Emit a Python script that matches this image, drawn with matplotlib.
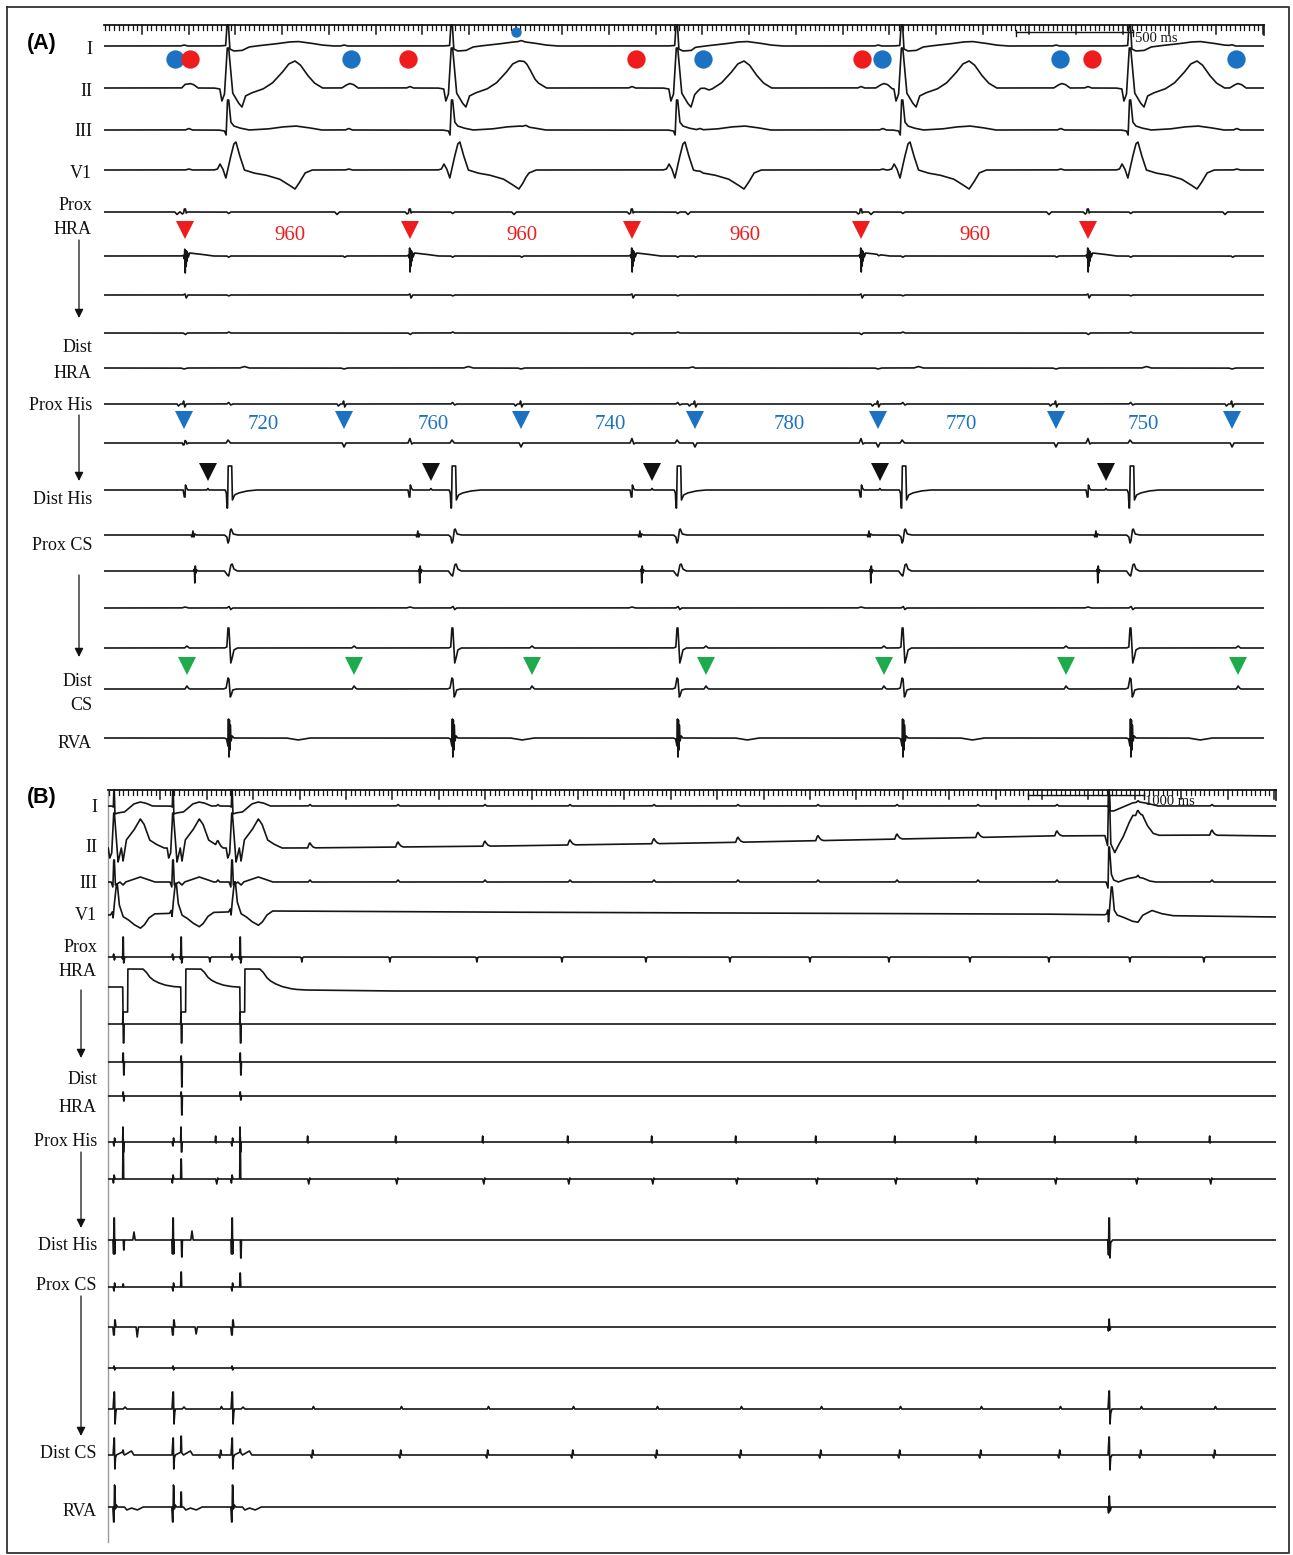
import numpy as np
import matplotlib
matplotlib.use("Agg")
import matplotlib.pyplot as plt

W, H = 1293, 1555
SERIF = ["Liberation Serif", "DejaVu Serif"]
SANS = ["Liberation Sans", "DejaVu Sans"]

# ======================= DATA: panel A (times in ms) =======================
A_QRS_MS = [531, 1490, 2454, 3418, 4394]            # ventricular complexes
A_RED_MS = [347, 1310, 2261, 3242, 4214]            # HRA (red) atrial activation
A_BLUE_MS = [343, 1028, 1786, 2531, 3315, 4077, 4831]  # second atrial rhythm (blue)
A_HIS_MS = [445, 1400, 2347, 3323, 4291]            # His (black triangles)
A_GREEN_MS = [355, 1071, 1833, 2578, 3340, 4120, 4857]  # Dist CS (green)
A_RED_DOT_MS = [368, 1302, 2278, 3246, 4231]
A_BLUE_DOT_MS = [304, 1058, 2565, 3332, 4094, 4848]
A_BLUE_DOT_SMALL_MS = [1764]
A_RED_LABEL_MS = [797, 1790, 2745, 3730]
A_RED_LABELS = ["960", "960", "960", "960"]
A_BLUE_LABEL_MS = [681, 1409, 2167, 2934, 3670, 4450]
A_BLUE_LABELS = ["720", "760", "740", "780", "770", "750"]

A_LABELS = [("I", 47), ("II", 89), ("III", 130), ("V1", 171), ("Prox", 204),
            ("HRA", 227), ("Dist", 345), ("HRA", 371), ("Prox His", 403),
            ("Dist His", 498), ("Prox CS", 544), ("Dist", 680), ("CS", 704),
            ("RVA", 742)]

# ======================= DATA: panel B (times in ms) =======================
B_QRS_PACED_MS = [52, 560, 1069]
B_STIM_MS = [129, 629, 1138]
B_QRS_ESC_MS = [8629]
B_P_MS = [948, 1741, 2500, 3250, 3983, 4707, 5431, 6121, 6802, 7500, 8181, 8879, 9517]

B_LABELS = [("I", 806), ("II", 846), ("III", 882), ("V1", 914), ("Prox", 946),
            ("HRA", 969), ("Dist", 1078), ("HRA", 1106), ("Prox His", 1139),
            ("Dist His", 1244), ("Prox CS", 1284), ("Dist CS", 1452), ("RVA", 1510)]

# per-beat stimulus amplitudes (px)
B_HRA4_UP = [9, 6, 9]
B_HRA4_DN = [13, 25, 13]
B_DHRA_DN = [5, 19, 4]
B_HIS2_UP = [40, 20, 42]
B_DHIS_DN = [10, 17, 18]
B_DHIS_POST = [8, 9, 0]
B_PCS_UP = [3, 15, 14]
B_CS2_POST = [10, 7, 0]
B_DCS_STIM = [3, 16, 3]
B_RVA_STIM = [0, 15, 0]

# ======================= waveform templates (ms offset, px up) ============
T_A_I_QRS = [(-40, 0), (-10, .5), (-4, 21), (2, 21), (8, -3), (25, -5), (60, -4.5), (90, -1),
             (120, 0), (200, 2), (260, 4), (300, 4.5), (350, 3), (400, 1), (450, 0)]
T_A_II_QRS = [(-60, 0), (-35, -1), (-26, -13), (-15, -6), (-3, 40), (3, 40), (20, -5), (45, -15),
              (60, -19), (75, -8), (100, -5), (150, -1), (190, 5), (230, 15), (260, 24),
              (287, 27), (310, 23), (340, 13), (370, 5), (405, 0)]
T_A_III_QRS = [(-40, 0), (-15, -1), (-8, -5), (-2, 30), (3, 30), (12, 8), (25, 4), (50, 2), (90, 0),
               (170, 1), (230, 3), (290, 4), (340, 2.5), (400, 0)]
T_A_V1_QRS = [(-60, 0), (-45, 1), (-34, 6), (-22, 1), (-9, -8), (8, 10), (25, 26), (34, 28), (48, 16),
              (70, 0), (110, -3), (160, -5), (220, -9), (255, -14), (287, -19), (305, -13),
              (330, -3), (360, 0)]
T_P = [(-30, 0), (-10, 3), (5, 4.5), (20, 3.5), (40, 0)]
T_SMALLBUMP = [(-15, 0), (0, 1), (15, 0)]
T_A_PHRA_RED = [(-20, 0), (-12, -2), (-6, -1), (-3, 3), (2, 3), (5, -1), (10, 0)]
T_A_PHRA_BLUE = [(-40, 0), (-30, -2.5), (-20, 0)]
T_A_FF = [(-5, 0), (3, -1.5), (12, 0)]
T_A_HRA2_RED = [(-12, 0), (-6, 1), (-3, -2), (-1, 8), (1, -16), (3, 6), (5, -10), (7, 5), (9, -5),
                (11, 3), (14, -1), (20, 3), (60, 2), (120, 0)]
T_A_HRA3_RED = [(-8, 0), (0, 1), (5, -3), (12, 0)]
T_A_HRA4_RED = [(-8, 0), (2, -1.5), (10, 0)]
T_A_DHRA_Q = [(50, 0), (70, 1.5), (90, 0)]
T_A_PHIS_BLUE = [(-30, 0), (-24, -2), (-16, 0), (-6, 0), (-2, 3), (3, -3), (9, 0)]
T_A_PHIS_Q = [(-5, 0), (3, 1.5), (12, -1), (20, 0)]
T_A_HIS2_BLUE = [(-8, 0), (0, -4), (8, 0)]
T_A_HIS2_RED = [(-8, 0), (0, 4.5), (8, -1), (14, 0)]
T_A_HIS2_Q = [(-8, 0), (0, 3), (10, 0)]
T_A_DHIS_RED = [(-8, 0), (-3, -7), (0, -7), (2, 5), (6, 2), (12, 0)]
T_A_DHIS_H = [(-5, 0), (0, 1.5), (5, 0)]
T_A_DHIS_Q = [(-12, 0), (-7, -3), (-4, -18), (-2, -18), (1, 24), (16, 24), (19, -10), (28, -5),
              (45, -3), (80, -1), (120, 0)]
T_A_PCS_RED = [(25, 0), (30, -2), (34, 4), (38, -2), (42, 1), (48, 0)]
T_A_PCS_Q = [(-15, 0), (-5, -2), (0, -8), (4, -6), (10, 5), (14, 6), (22, 1), (40, 0)]
T_A_CS2_RED = [(36, 0), (40, 2), (42, -12), (44, 5), (47, -2), (50, 1), (56, 0)]
T_A_CS2_Q = [(-15, 0), (-3, -4), (3, -5), (12, 6), (18, 7), (25, 2), (40, 0)]
T_A_CS3_Q = [(-5, 0), (5, 1.5), (12, -1.5), (20, 0)]
T_A_CS4_G = [(-10, 0), (0, 2), (10, 0)]
T_A_CS4_Q = [(-15, 0), (-5, 1), (0, 20), (4, 20), (12, -15), (18, -10), (25, -2), (40, 0)]
T_A_DCS_G = [(-8, 0), (0, 3), (6, 1), (12, 0)]
T_A_DCS_Q = [(-20, 0), (-8, 1), (0, 11), (4, 10), (10, -8), (14, -6), (20, -1), (35, 0)]
T_A_RVA_Q = [(-15, 0), (-6, -1), (0, -8), (2, 19), (4, -19), (6, 18), (8, -12), (10, 13), (13, -3),
             (18, 2), (25, 0), (250, 0), (300, -2), (350, 0)]

T_B_I_PACED = [(-20, 0), (-6, -1), (-2, 16), (2, 16), (8, -8), (30, -7), (90, -6), (130, -2),
               (170, 2), (224, 4), (270, 3), (330, 0)]
T_B_I_ESC = [(-20, 0), (-6, -1), (-2, 16), (2, 16), (10, -5), (40, -5), (80, -3), (140, 0),
             (200, 3), (260, 4), (320, 3), (420, 0)]
T_B_II_PACED = [(-50, 0), (-37, -10), (-20, -5), (-3, 35), (3, 35), (35, -14), (63, 0), (78, -13),
                (106, 8), (172, 18), (227, 29), (258, 24), (307, 8), (359, 4), (430, 0)]
T_B_II_ESC = [(-35, 0), (-12, -10), (-4, 40), (4, 40), (15, -8), (50, -17), (80, -10), (120, -2),
              (170, 12), (205, 20), (290, 20), (330, 10), (380, 2), (430, 0)]
T_B_III_PACED = [(-25, 0), (-10, -5), (-3, 22), (3, 22), (12, -3), (25, -2), (50, 0), (78, -3),
                 (100, 0), (150, 2), (227, 5), (280, 3), (350, 0)]
T_B_III_ESC = [(-25, 0), (-8, -6), (-2, 35), (4, 35), (20, 8), (40, 2), (80, 0), (150, 3),
               (230, 5), (290, 4), (350, 1), (400, 0)]
T_B_V1_PACED = [(-30, 0), (-15, 3), (-8, -3), (0, 8), (20, 30), (29, 30), (45, 10), (78, -2),
                (120, -5), (170, -10), (227, -14), (260, -11), (300, -4), (350, 0)]
T_B_V1_ESC = [(-40, 0), (-20, 1), (-10, 5), (-4, -7), (5, 5), (20, 28), (28, 28), (45, 5), (70, 0),
              (120, -2), (200, -6), (250, -7), (290, 0), (370, 5), (450, 2), (550, 0)]
T_B_P = [(-20, 0), (-8, 4), (0, 5), (10, 3), (25, 1), (45, 0)]
T_B_PHRA_STIM = [(-10, 0), (-3, -2), (0, 20), (3, 20), (6, -6), (10, -4), (15, 0)]
T_B_PHRA_Q = [(-10, 0), (-3, 3), (3, -3), (10, 0)]
T_B_PHRA_P = [(-85, 0), (-75, -1), (-70, -5), (-65, -1), (-55, 0)]
T_B_HRA2_STIM = [(-2, 0), (0, -25), (40, -25), (42, 18), (172, 18), (200, 15), (230, 10),
                 (260, 7), (300, 4.5), (360, 2), (430, .5), (480, 0)]
T_B_HRA3_STIM = [(-3, 0), (0, 12), (3, -19), (7, -19), (10, 0)]
T_UNIT_UP = [(-3, 0), (0, 1), (3, 1), (6, 0)]
T_UNIT_DN = [(3, 0), (6, -1), (9, -1), (12, 0)]
T_B_PHIS_STIM = [(-3, 0), (0, 15), (3, -10), (7, -10), (10, 0)]
T_B_PHIS_P = [(-25, 0), (-20, 6), (-16, -1), (-10, 0)]
T_B_HIS2_P = [(-20, 0), (-10, -5), (-2, 1), (5, 0)]
T_B_HIS2_Q = [(-10, 0), (-5, -4), (1, 4), (8, 0)]
T_B_DHIS_Q = [(-8, 0), (-4, -14), (-1, 22), (3, 22), (6, -14), (10, 0)]
T_B_DHIS_POST = [(85, 0), (95, 1), (105, 0)]
T_B_DHIS_ESC = [(-10, 0), (-4, -15), (-1, 22), (4, 22), (8, -18), (14, -3), (30, 0)]
T_B_PCS_Q = [(-8, 0), (0, -4), (5, 4), (10, 0)]
T_B_CS2_Q = [(-10, 0), (-4, -8), (2, -8), (6, 7), (10, 7), (16, 0)]
T_B_CS2_POST = [(190, 0), (200, -1), (210, 0)]
T_B_CS2_ESC = [(-10, 0), (-4, -4), (2, 8), (8, -3), (16, 0)]
T_B_CS3_Q = [(-6, 0), (0, 2), (6, -2), (12, 0)]
T_B_CS4_Q = [(-8, 0), (0, 17), (4, 17), (9, -15), (14, -5), (20, 0), (80, 0), (95, 2), (110, 0)]
T_B_CS4_P = [(5, 0), (15, 2.5), (25, 0)]
T_B_CS4_ESC = [(-8, 0), (0, 18), (4, 18), (9, -15), (14, -5), (25, 0)]
T_B_DCS_Q = [(-8, 0), (0, 17), (3, 17), (7, -14), (12, -3), (20, 0), (70, 3), (90, 0), (150, 4),
             (170, 0)]
T_B_DCS_P = [(5, 0), (15, -3), (23, 5), (31, 0)]
T_B_DCS_ESC = [(-8, 0), (0, 18), (3, 18), (8, -15), (14, -3), (25, 0)]
T_B_RVA_Q = [(-10, 0), (-4, -15), (0, -15), (4, 22), (8, 20), (12, -2), (20, 2), (30, 0),
             (90, 0), (110, -3), (150, -1), (200, -3), (250, 0)]
T_B_RVA_ESC = [(-10, 0), (-3, -6), (3, 11), (10, -4), (20, 0)]

# baselines (px rows)
B_II_DRIFT = [(0, 848), (1655, 848), (3379, 846), (5103, 843), (6828, 839), (8121, 836),
              (9414, 835), (10069, 836)]
B_V1_DRIFT = [(0, 915), (1400, 911), (3000, 912), (8000, 914), (10069, 917)]
B_HRA2_DRIFT = [(0, 987), (1300, 987), (1700, 990), (2400, 991), (10069, 991)]

# ======================= helpers =======================
def build(t, base, items):
    if isinstance(base, (int, float)):
        y = np.full(t.shape, float(base))
    else:
        bt = np.array([p[0] for p in base], float)
        bv = np.array([p[1] for p in base], float)
        y = np.interp(t, bt, bv)
    for times, tmpl, amps in items:
        dt = np.array([p[0] for p in tmpl], float)
        a = np.array([p[1] for p in tmpl], float)
        for k, t0 in enumerate(times):
            s = 1.0 if amps is None else amps[k]
            m = (t >= t0 + dt[0]) & (t <= t0 + dt[-1])
            y[m] -= s * np.interp(t[m], t0 + dt, a)
    return y


fig = plt.figure(figsize=(W / 100, H / 100), dpi=100)
ov = fig.add_axes([0, 0, 1, 1])
ov.set_xlim(0, W)
ov.set_ylim(H, 0)
ov.axis("off")

# outer border
ov.plot([7, 1289, 1289, 7, 7], [7, 7, 1553, 1553, 7], color="#333333", lw=1.3)

def add_labels(labels, xr):
    for txt, yc in labels:
        ov.text(xr, yc + 6.5, txt, ha="right", va="baseline", fontsize=13,
                family=SERIF, color="#111111")

def arrow(x, y0, y1):
    ov.annotate("", xy=(x, y1), xytext=(x, y0),
                arrowprops=dict(arrowstyle="-|>", lw=0.9, color="#111111",
                                mutation_scale=13, shrinkA=0, shrinkB=0))

add_labels(A_LABELS, 92)
add_labels(B_LABELS, 97)
arrow(79, 240, 318)
arrow(79, 415, 481)
arrow(79, 575, 657)
arrow(81, 990, 1058)
arrow(81, 1152, 1228)
arrow(81, 1296, 1436)
ov.text(27, 49, "(A)", fontsize=15.5, weight="bold", family=SANS, va="baseline")
ov.text(27, 803, "(B)", fontsize=15.5, weight="bold", family=SANS, va="baseline")
ov.plot([108, 108], [790, 1542], color="#9a9a9a", lw=1.0)

TRACE = dict(color="#151515", lw=1.2, solid_joinstyle="round")

# ======================= Panel A =======================
A_X0, A_X1 = 104, 1264
A_PXMS = 0.2335
A_TMAX = (A_X1 - A_X0) / A_PXMS
axA = fig.add_axes([A_X0 / W, 1 - 775 / H, (A_X1 - A_X0) / W, 775 / H])
axA.set_xlim(0, A_TMAX)
axA.set_ylim(775, 0)
axA.axis("off")
axA.patch.set_alpha(0)

tA = np.arange(0, A_TMAX + 0.5, 0.5)
Q, R, Bl, Hs, G = A_QRS_MS, A_RED_MS, A_BLUE_MS, A_HIS_MS, A_GREEN_MS
Bl20 = [b + 20 for b in Bl]
chansA = [
    (46, [(Q, T_A_I_QRS, None), (Bl, T_SMALLBUMP, None)]),
    (88, [(Q, T_A_II_QRS, None), (Bl20, T_P, None), (R, T_SMALLBUMP, [1.5] * len(R))]),
    (130, [(Q, T_A_III_QRS, None), (Bl20, T_SMALLBUMP, [1.5] * len(Bl))]),
    (170, [(Q, T_A_V1_QRS, None), (Bl20, T_SMALLBUMP, None)]),
    (212, [(R, T_A_PHRA_RED, None), (Bl, T_A_PHRA_BLUE, None), (Q, T_A_FF, None)]),
    (256, [(R, T_A_HRA2_RED, None), (Q, T_A_FF, [0.8] * len(Q)), (Bl, T_A_FF, [0.8] * len(Bl))]),
    (295, [(R, T_A_HRA3_RED, None), (Q, T_A_FF, [0.6] * len(Q))]),
    (333, [(R, T_A_HRA4_RED, None), (Q, T_A_FF, [-0.7] * len(Q))]),
    (368, [(Q, T_A_DHRA_Q, None), (Bl, T_SMALLBUMP, [-1] * len(Bl))]),
    (404, [(Bl, T_A_PHIS_BLUE, None), (Q, T_A_PHIS_Q, None)]),
    (443, [(Bl, T_A_HIS2_BLUE, None), (R, T_A_HIS2_RED, None), (Q, T_A_HIS2_Q, None)]),
    (490, [(R, T_A_DHIS_RED, None), (Hs, T_A_DHIS_H, None), (Q, T_A_DHIS_Q, None)]),
    (535, [(R, T_A_PCS_RED, None), (Q, T_A_PCS_Q, None)]),
    (571, [(R, T_A_CS2_RED, None), (Q, T_A_CS2_Q, None)]),
    (608, [(Q, T_A_CS3_Q, None), (R, T_SMALLBUMP, [1] * len(R))]),
    (648, [(G, T_A_CS4_G, None), (Q, T_A_CS4_Q, None)]),
    (689, [(G, T_A_DCS_G, None), (Q, T_A_DCS_Q, None)]),
    (738, [(Q, T_A_RVA_Q, None)]),
]
for base, items in chansA:
    axA.plot(tA, build(tA, base, items), **TRACE)

def ruler(ax, tmax, ytop, ymin, ymaj, step, phase, maj_every, maj_phase):
    ax.plot([0, tmax], [ytop, ytop], color="#151515", lw=1.3, clip_on=False)
    k = 0
    tt = phase
    while tt <= tmax:
        is_maj = (k - maj_phase) % maj_every == 0
        ax.plot([tt, tt], [ytop, ymaj if is_maj else ymin], color="#151515",
                lw=1.1 if is_maj else 0.9, clip_on=False)
        tt += step
        k += 1
    ax.plot([tmax, tmax], [ytop, ymaj + 1], color="#151515", lw=1.2, clip_on=False)

ruler(axA, A_TMAX, 24.5, 30, 33.5, 20, 3, 10, 8)
# 500 ms scale bar
s0 = (1016 - A_X0) / A_PXMS
axA.plot([s0, s0 + 500], [32.3, 32.3], color="#151515", lw=1.0)
for sx in (s0, s0 + 500):
    axA.plot([sx, sx], [29.5, 35.5], color="#151515", lw=1.0)
axA.text(s0 + 500 + 8, 42.5, "500 ms", fontsize=10.5, family=SERIF, va="baseline",
         ha="left", color="#151515")

RED, BLUE, GREEN = "#ee1c1c", "#1c72c2", "#1eab4c"
axA.plot(A_BLUE_DOT_MS, [59] * len(A_BLUE_DOT_MS), "o", ms=13.2, color=BLUE, mew=0, zorder=5)
axA.plot(A_RED_DOT_MS, [59] * len(A_RED_DOT_MS), "o", ms=13.2, color=RED, mew=0, zorder=6)
axA.plot(A_BLUE_DOT_SMALL_MS, [32] * len(A_BLUE_DOT_SMALL_MS), "o", ms=7.5, color=BLUE, mew=0,
         zorder=6)
axA.plot(A_RED_MS, [230] * len(A_RED_MS), "v", ms=12.5, color=RED, mew=0, zorder=5)
axA.plot(A_BLUE_MS, [420] * len(A_BLUE_MS), "v", ms=12.5, color=BLUE, mew=0, zorder=5)
axA.plot(A_HIS_MS, [472] * len(A_HIS_MS), "v", ms=12.5, color="#111111", mew=0, zorder=5)
axA.plot(A_GREEN_MS, [666] * len(A_GREEN_MS), "v", ms=12.5, color=GREEN, mew=0, zorder=5)
for tx, s in zip(A_RED_LABEL_MS, A_RED_LABELS):
    axA.text(tx, 239.5, s, color=RED, fontsize=15, family=SERIF, ha="center", va="baseline")
for tx, s in zip(A_BLUE_LABEL_MS, A_BLUE_LABELS):
    axA.text(tx, 429, s, color=BLUE, fontsize=15, family=SERIF, ha="center", va="baseline")

# ======================= Panel B =======================
B_X0, B_X1 = 108, 1276
B_PXMS = 0.116
B_TMAX = (B_X1 - B_X0) / B_PXMS
axB = fig.add_axes([B_X0 / W, 1 - 1550 / H, (B_X1 - B_X0) / W, (1550 - 780) / H])
axB.set_xlim(0, B_TMAX)
axB.set_ylim(1550, 780)
axB.axis("off")
axB.patch.set_alpha(0)

tB = np.arange(0, B_TMAX + 0.5, 0.5)
QP, ST, QE, P = B_QRS_PACED_MS, B_STIM_MS, B_QRS_ESC_MS, B_P_MS
P15 = [p + 15 for p in P]
chansB = [
    (806, [(QP, T_B_I_PACED, None), (QE, T_B_I_ESC, None), (P, T_SMALLBUMP, [1.5] * len(P))]),
    (B_II_DRIFT, [(QP, T_B_II_PACED, None), (QE, T_B_II_ESC, None), (P, T_B_P, None)]),
    (882, [(QP, T_B_III_PACED, None), (QE, T_B_III_ESC, None), (P, T_SMALLBUMP, [2] * len(P))]),
    (B_V1_DRIFT, [(QP, T_B_V1_PACED, None), (QE, T_B_V1_ESC, None)]),
    (957, [(ST, T_B_PHRA_STIM, None), (QP, T_B_PHRA_Q, None), (P, T_B_PHRA_P, None)]),
    (B_HRA2_DRIFT, [(ST, T_B_HRA2_STIM, None)]),
    (1024, [(ST, T_B_HRA3_STIM, None)]),
    (1062, [(ST, T_UNIT_UP, B_HRA4_UP), (ST, T_UNIT_DN, B_HRA4_DN)]),
    (1096, [(ST, T_UNIT_UP, [4, 4, 4]), (ST, T_UNIT_DN, B_DHRA_DN)]),
    (1142, [(ST, T_B_PHIS_STIM, None), (P, T_B_PHIS_P, None), (QP, T_B_PCS_Q, None)]),
    (1179, [(ST, T_UNIT_UP, B_HIS2_UP), (P, T_B_HIS2_P, None), (QP, T_B_HIS2_Q, None)]),
    (1240, [(QP, T_B_DHIS_Q, None), (ST, T_UNIT_DN, B_DHIS_DN), (ST, T_B_DHIS_POST, B_DHIS_POST),
            (QE, T_B_DHIS_ESC, None)]),
    (1287, [(QP, T_B_PCS_Q, None), (ST, T_UNIT_UP, B_PCS_UP)]),
    (1327, [(QP, T_B_CS2_Q, None), (QP, T_B_CS2_POST, B_CS2_POST), (QE, T_B_CS2_ESC, None)]),
    (1368, [(QP, T_B_CS3_Q, None)]),
    (1409, [(QP, T_B_CS4_Q, None), (P15, T_B_CS4_P, None), (QE, T_B_CS4_ESC, None)]),
    (1455, [(QP, T_B_DCS_Q, None), (ST, T_UNIT_UP, B_DCS_STIM), (P, T_B_DCS_P, None),
            (QE, T_B_DCS_ESC, None)]),
    (1507, [(QP, T_B_RVA_Q, None), (ST, T_UNIT_UP, B_RVA_STIM), (QE, T_B_RVA_ESC, None)]),
]
for base, items in chansB:
    axB.plot(tB, build(tB, base, items), **TRACE)

# ruler: minor 40 ms, major 400 ms
ruler(axB, B_TMAX, 790, 794.5, 798.5, 40, 12, 10, 1)
s0 = (1028 - B_X0) / B_PXMS
axB.plot([s0, s0 + 1000], [795, 795], color="#151515", lw=1.0)
for sx in (s0, s0 + 1000):
    axB.plot([sx, sx], [792.5, 798.5], color="#151515", lw=1.0)
axB.text(s0 + 1000 + 10, 804.5, "1000 ms", fontsize=10.5, family=SERIF, va="baseline",
         ha="left", color="#151515")

fig.savefig("out.png", dpi=100)
